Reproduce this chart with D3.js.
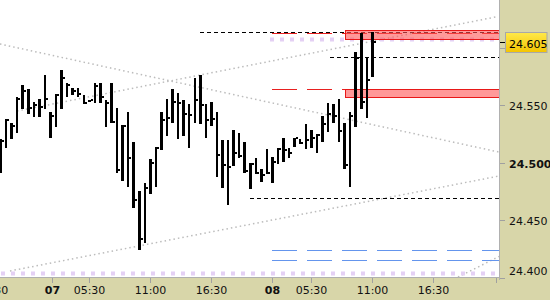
<!DOCTYPE html>
<html>
<head>
<meta charset="utf-8">
<script src="https://cdn.jsdelivr.net/npm/d3@7"></script>
<style>
  body { margin: 0; background: #fff; }
  svg { display: block; font-family: "DejaVu Sans", sans-serif; }
</style>
</head>
<body>
<script>
// bar data, one entry per 30 min bar (HLC)
var highs = [24.521,24.538,24.535,24.557,24.568,24.564,24.553,24.556,24.577,24.544,
  24.560,24.581,24.570,24.565,24.565,24.559,24.555,24.570,24.570,24.555,
  24.570,24.548,24.533,24.544,24.518,24.475,24.482,24.503,24.514,24.544,
  24.556,24.564,24.561,24.555,24.551,24.574,24.577,24.551,24.553,24.544,
  24.520,24.520,24.529,24.526,24.518,24.500,24.504,24.495,24.512,24.505,
  24.513,24.522,24.513,24.522,24.521,24.534,24.529,24.525,24.541,24.552,
  24.551,24.556,24.535,24.544,24.597,24.613,24.591,24.614];
var lows = [24.491,24.513,24.521,24.526,24.547,24.543,24.540,24.540,24.547,24.522,
  24.531,24.547,24.557,24.559,24.557,24.551,24.555,24.552,24.552,24.531,
  24.535,24.491,24.484,24.479,24.461,24.424,24.430,24.473,24.479,24.511,
  24.523,24.535,24.521,24.523,24.513,24.535,24.534,24.522,24.532,24.488,
  24.478,24.463,24.497,24.504,24.491,24.477,24.490,24.483,24.490,24.482,
  24.499,24.501,24.504,24.514,24.516,24.512,24.513,24.509,24.518,24.527,
  24.535,24.518,24.495,24.479,24.531,24.547,24.539,24.575];
var closes = [24.519,24.537,24.532,24.556,24.563,24.548,24.550,24.549,24.556,24.541,
  24.559,24.574,24.568,24.563,24.560,24.552,24.555,24.567,24.557,24.552,
  24.536,24.494,24.532,24.504,24.468,24.434,24.478,24.500,24.513,24.537,
  24.539,24.553,24.552,24.543,24.542,24.555,24.550,24.537,24.538,24.507,
  24.498,24.496,24.509,24.506,24.493,24.499,24.491,24.489,24.491,24.501,
  24.512,24.511,24.509,24.522,24.517,24.520,24.522,24.524,24.534,24.543,
  24.541,24.528,24.498,24.541,24.591,24.553,24.572,24.605];

var lastPrice = 24.605;
var priceTicks = [24.400, 24.450, 24.500, 24.550, 24.600];
var timeTicks = [-1.6, 9.3, 16, 27, 38, 49, 56, 67, 78, 89.2];
var timeLabels = ["16:30", "07", "05:30", "11:00", "16:30", "08", "05:30", "11:00", "16:30", ""];
var dayLabels = ["07", "08"];

// trend lines: [bar0, price0, bar1, price1]
var trendLines = [
  [-0.1, 24.6036, 89.82, 24.5094],
  [2.97, 24.5452, 89.46, 24.6274],
  [1.71, 24.4057, 89.82, 24.4885],
  [82.43, 24.4004, 89.82, 24.4183]
];
var blackLevels = [{from: 36, price: 24.614}, {from: 59.4, price: 24.592}, {from: 45, price: 24.469}];
var redLevels = [{from: 49, price: 24.613}, {from: 49, price: 24.564}];
var blueLevels = [{from: 49, price: 24.424}, {from: 49, price: 24.415}];
var lilacLevels = [{from: 48.6, price: 24.608}, {from: 0, price: 24.4035}];
var zones = [{from: 62, hi: 24.616, lo: 24.608}, {from: 62, hi: 24.564, lo: 24.557}];

var W = 550, H = 300, plotR = 499, plotB = 277.5;
var panel = "#d8d6a9";

var x = d3.scaleLinear().domain([0, 89.82]).range([0.5, 499]);
var y = d3.scaleLinear().domain([24.4, 24.642]).range([plotB, 0]);
var py = function(p) { return Math.round(y(p)) + 0.5; };
// bar body spans about 2.5px, snapped to whole pixels
var bx0 = function(i) { return Math.round(x(i) - 1.2); };
var bx1 = function(i) { return Math.round(x(i) + 1.3); };

var svg = d3.select("body").append("svg")
  .attr("width", W)
  .attr("height", H);

svg.append("clipPath").attr("id", "plotclip")
  .append("rect").attr("x", 0).attr("y", 0).attr("width", plotR).attr("height", plotB);

svg.append("rect").attr("width", plotR).attr("height", plotB).attr("fill", "#fff");

var g = svg.append("g").attr("clip-path", "url(#plotclip)");

// dotted channel lines
g.selectAll(".trend").data(trendLines).enter().append("line")
  .attr("class", "trend")
  .attr("x1", function(d){ return x(d[0]); })
  .attr("y1", function(d){ return y(d[1]); })
  .attr("x2", function(d){ return x(d[2]); })
  .attr("y2", function(d){ return y(d[3]); })
  .attr("stroke", "#bcbcbc")
  .attr("stroke-width", 1.5)
  .attr("stroke-dasharray", "1.5,3");

var drawLevels = function(levels, color, dash, width) {
  g.append("g").selectAll("line").data(levels).enter().append("line")
    .attr("x1", function(d){ return Math.round(x(d.from)); })
    .attr("x2", plotR)
    .attr("y1", function(d){ return py(d.price); })
    .attr("y2", function(d){ return py(d.price); })
    .attr("stroke", color)
    .attr("stroke-width", width)
    .attr("stroke-dasharray", dash);
};

drawLevels(lilacLevels, "#e4d0f4", "4,6", 4);
drawLevels(blueLevels, "#6495ed", "25,10", 1);
drawLevels(redLevels, "#e82020", "25,10", 1);
drawLevels(blackLevels, "#000", "4,3", 1);

// zones
g.selectAll(".zone").data(zones).enter().append("rect")
  .attr("class", "zone")
  .attr("x", function(d){ return Math.round(x(d.from)) + 0.5; })
  .attr("y", function(d){ return py(d.hi); })
  .attr("width", function(d){ return plotR - Math.round(x(d.from)); })
  .attr("height", function(d){ return py(d.lo) - py(d.hi); })
  .attr("fill", "#ff5555")
  .attr("fill-opacity", 0.6)
  .attr("stroke", "#e81818")
  .attr("stroke-width", 1);

// HLC bars
var idx = d3.range(highs.length);
g.selectAll(".bar").data(idx).enter().append("rect")
  .attr("class", "bar")
  .attr("x", bx0)
  .attr("y", function(i){ return Math.round(y(highs[i])); })
  .attr("width", function(i){ return bx1(i) - bx0(i); })
  .attr("height", function(i){ return Math.max(2, Math.round(y(lows[i])) - Math.round(y(highs[i]))); })
  .attr("fill", "#000");
g.selectAll(".close").data(idx).enter().append("rect")
  .attr("class", "close")
  .attr("x", bx1)
  .attr("y", function(i){ return Math.round(y(closes[i])) - 1; })
  .attr("width", 2)
  .attr("height", 2)
  .attr("fill", "#000");

// axis panels
svg.append("rect").attr("x", plotR).attr("y", 0).attr("width", W - plotR).attr("height", H).attr("fill", panel);
svg.append("rect").attr("x", 0).attr("y", plotB).attr("width", plotR).attr("height", H - plotB).attr("fill", panel);
svg.append("line").attr("x1", plotR + 0.5).attr("x2", plotR + 0.5).attr("y1", 0).attr("y2", 280)
  .attr("stroke", "#b0b0b0");
svg.append("line").attr("x1", 0).attr("x2", plotR).attr("y1", plotB).attr("y2", plotB)
  .attr("stroke", "#b0b0b0");

// price axis
var yAxis = svg.append("g").attr("font-size", 11);
yAxis.selectAll("line").data(priceTicks).enter().append("line")
  .attr("x1", plotR + 1).attr("x2", plotR + 6)
  .attr("y1", function(d){ return py(d); })
  .attr("y2", function(d){ return py(d); })
  .attr("stroke", "#a0a0a0");
yAxis.selectAll("text").data(priceTicks.filter(function(d){ return Math.abs(d - lastPrice) > 0.01; }))
  .enter().append("text")
  .attr("x", 509)
  .attr("y", function(d){ return Math.min(py(d), 271) + 4; })
  .attr("font-weight", function(d){ return Math.abs(d - 24.5) < 1e-6 ? "bold" : "normal"; })
  .attr("fill", "#111")
  .text(function(d){ return d3.format(".3f")(d); });

// current price marker
var grad = svg.append("defs").append("linearGradient").attr("id", "gold")
  .attr("x1", 0).attr("y1", 0).attr("x2", 0).attr("y2", 1);
grad.append("stop").attr("offset", "0%").attr("stop-color", "#ffe94a");
grad.append("stop").attr("offset", "100%").attr("stop-color", "#f3c400");
svg.append("line").attr("x1", plotR + 1).attr("x2", 506)
  .attr("y1", py(lastPrice)).attr("y2", py(lastPrice)).attr("stroke", "#000");
svg.append("rect").attr("x", 505.5).attr("y", py(lastPrice) - 10).attr("width", 41.5).attr("height", 20)
  .attr("fill", "url(#gold)").attr("stroke", "#a8a8a8");
svg.append("text").attr("x", 509).attr("y", py(lastPrice) + 5.5)
  .attr("font-size", 11).attr("fill", "#000")
  .text(d3.format(".3f")(lastPrice));

// time axis (first label sits partly off the left edge, as in the original)
var xAxis = svg.append("g").attr("font-size", 11);
xAxis.selectAll("line").data(timeTicks).enter().append("line")
  .attr("x1", function(d){ return Math.round(x(d)) + 0.5; })
  .attr("x2", function(d){ return Math.round(x(d)) + 0.5; })
  .attr("y1", 278).attr("y2", 283)
  .attr("stroke", "#a0a0a0");
xAxis.selectAll("text").data(timeTicks).enter().append("text")
  .attr("x", function(d){ return Math.round(x(d)) + 0.5; })
  .attr("y", 294)
  .attr("text-anchor", "middle")
  .attr("fill", "#111")
  .attr("font-weight", function(d, i){ return dayLabels.indexOf(timeLabels[i]) >= 0 ? "bold" : "normal"; })
  .text(function(d, i){ return timeLabels[i]; });
</script>
</body>
</html>
